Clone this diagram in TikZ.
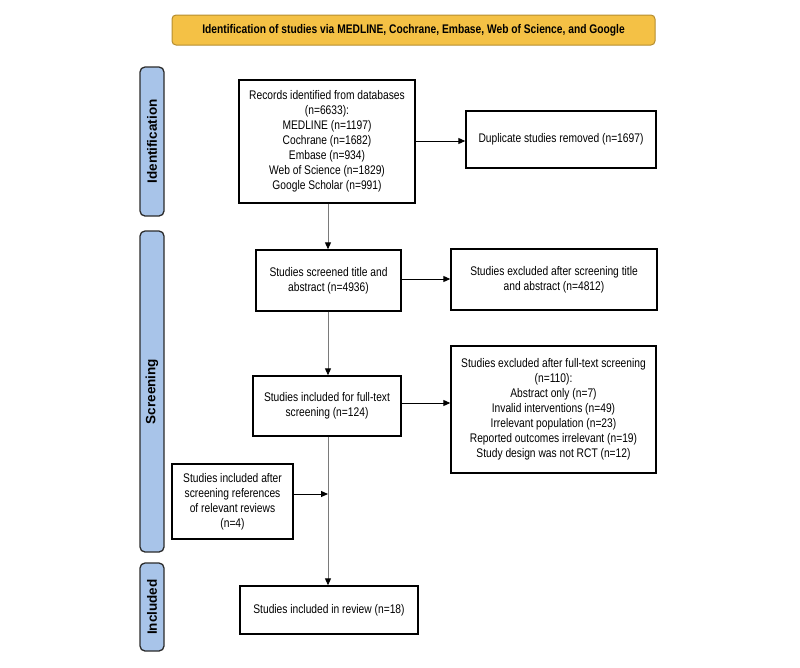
\documentclass[tikz,border=0pt]{standalone}
\usepackage{fontspec}
\setmainfont{Liberation Sans}[FakeStretch=0.82]
\newfontfamily\sidefont{Liberation Sans}
\usetikzlibrary{arrows.meta}
\definecolor{bannerfill}{HTML}{F4C145}
\definecolor{bannerdraw}{HTML}{B58D2F}
\definecolor{sidefill}{HTML}{A8C4E9}
\definecolor{sidedraw}{HTML}{2B2B2B}
\definecolor{vline}{HTML}{7A7A7A}
\tikzset{
  box/.style={draw=black, line width=1.4pt, fill=white, align=center, inner sep=0pt,
    font=\fontsize{12.5}{15}\selectfont},
  banner/.style={draw=bannerdraw, line width=1pt, fill=bannerfill, rounded corners=4pt,
    align=center, inner sep=0pt, font=\fontsize{12.5}{15}\selectfont\bfseries},
  side/.style={draw=sidedraw, line width=1.3pt, fill=sidefill, rounded corners=5pt,
    inner sep=0pt, minimum width=24pt},
  sidelabel/.style={rotate=90, font=\sidefont\fontsize{13.5}{15}\selectfont\bfseries},
  arr/.style={line width=1pt, -{Triangle[length=7pt,width=6pt,color=black]}},
  varr/.style={arr, draw=vline},
  vseg/.style={line width=1pt, draw=vline}
}
\begin{document}
\begin{tikzpicture}[x=1pt,y=-1pt]
\useasboundingbox (0,0) rectangle (800,667);
% banner
\node[banner, minimum width=483pt, minimum height=30pt] (ban) at (413.5,30)
  {Identification of studies via MEDLINE, Cochrane, Embase, Web of Science, and Google};
% side bars
\node[side, minimum height=149pt] (sid) at (152,141.5) {};
\node[sidelabel] (sidl) at (sid.center) {Identification};
\node[side, minimum height=321pt] (sscr) at (152,391.5) {};
\node[sidelabel] (sscrl) at (sscr.center) {Screening};
\node[side, minimum height=88pt] (sinc) at (152,607) {};
\node[sidelabel] (sincl) at (sinc.center) {Included};
% boxes
\node[box, minimum width=176pt, minimum height=123pt] (rec) at (327,141.5)
  {Records identified from databases\\(n=6633):\\MEDLINE (n=1197)\\Cochrane (n=1682)\\Embase (n=934)\\Web of Science (n=1829)\\Google Scholar (n=991)};
\node[box, minimum width=190pt, minimum height=57pt] (dup) at (561,139.5)
  {Duplicate studies removed (n=1697)};
\node[box, minimum width=145pt, minimum height=61pt] (scr) at (328.5,280.5)
  {Studies screened title and\\abstract (n=4936)};
\node[box, minimum width=206pt, minimum height=61pt] (exc1) at (554,279.5)
  {Studies excluded after screening title\\and abstract (n=4812)};
\node[box, minimum width=148pt, minimum height=60pt] (full) at (327,406)
  {Studies included for full-text\\screening (n=124)};
\node[box, minimum width=205pt, minimum height=127pt] (exc2) at (553.5,409.5)
  {Studies excluded after full-text screening\\(n=110):\\Abstract only (n=7)\\Invalid interventions (n=49)\\Irrelevant population (n=23)\\Reported outcomes irrelevant (n=19)\\Study design was not RCT (n=12)};
\node[box, minimum width=121pt, minimum height=75pt] (refs) at (232.5,501.5)
  {Studies included after\\screening references\\of relevant reviews\\(n=4)};
\node[box, minimum width=178pt, minimum height=48pt] (inc) at (329,610)
  {Studies included in review (n=18)};
% connectors
\coordinate (j) at (328,494);
\draw[varr] (rec.south -| 328,0) -- (scr.north -| 328,0);
\draw[varr] (scr.south -| 328,0) -- (full.north -| 328,0);
\draw[vseg] (full.south -| 328,0) -- (j);
\draw[varr] (j) -- (inc.north -| 328,0);
\draw[arr] (rec.east |- dup.west) ++(0,1.5) coordinate (a1) -- (dup.west |- a1);
\draw[arr] (scr.east) ++(0,-1.5) coordinate (a2) -- (exc1.west |- a2);
\draw[arr] (full.east) ++(0,-3) coordinate (a3) -- (exc2.west |- a3);
\draw[arr] (refs.east |- j) -- (j);
\end{tikzpicture}
\end{document}
